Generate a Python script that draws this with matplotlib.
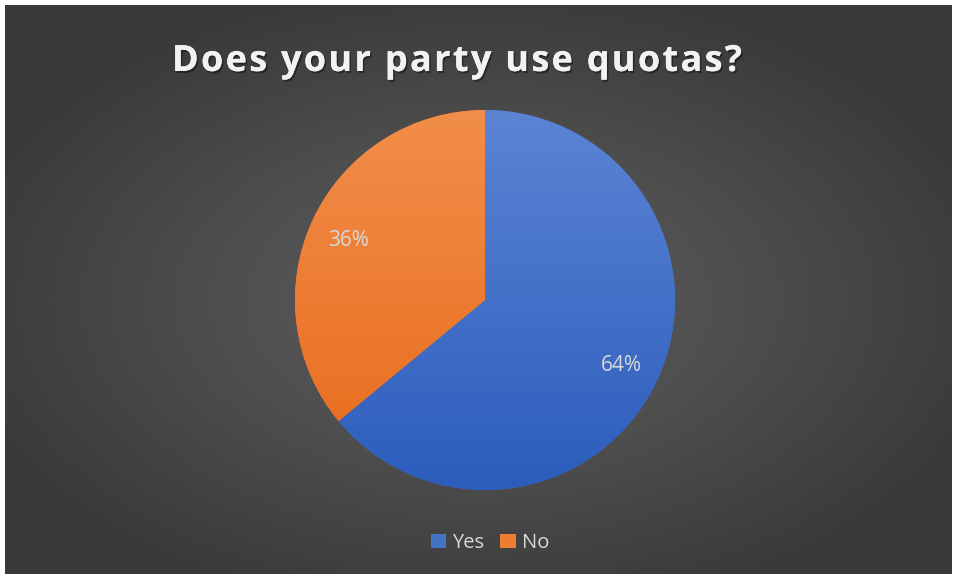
import numpy as np
import matplotlib
matplotlib.use("Agg")
import matplotlib.pyplot as plt
import matplotlib.patheffects as pe
from matplotlib.colors import LinearSegmentedColormap
from matplotlib.patches import Patch

title = "Does your party use quotas?"
categories = ["Yes", "No"]
values = [64, 36]
labels = ["64%", "36%"]
colors_top = ["#5b84d3", "#f28e4a"]
colors_bot = ["#2c5dbd", "#e86a1a"]
colors_mid = ["#4472c4", "#ed7d31"]

W, H = 956, 579
fig = plt.figure(figsize=(W / 100, H / 100), dpi=100, facecolor="white")

# background with radial gradient
bg = fig.add_axes([5 / W, 5 / H, (W - 9) / W, (H - 10) / H])
bg.set_axis_off()
yy, xx = np.mgrid[0:1:400j, 0:1:700j]
r = np.sqrt(((xx - 0.5) / 0.8) ** 2 + ((yy - 0.48) / 0.8) ** 2)
r = np.clip(r / 0.7, 0, 1)
bgcmap = LinearSegmentedColormap.from_list("bg", ["#5e5e5e", "#4e4e4e", "#3a3a3a"])
bg.imshow(r, cmap=bgcmap, extent=[0, 1, 0, 1], aspect="auto", origin="lower")
bg.set_xlim(0, 1)
bg.set_ylim(0, 1)

# pie axes: center (485,300), radius 190
R = 190
cx, cy = 485, 300
ax = fig.add_axes([(cx - R) / W, (H - cy - R) / H, 2 * R / W, 2 * R / H])
ax.set_axis_off()
wedges, _ = ax.pie(values, colors=colors_mid, startangle=90, counterclock=False,
                   radius=1.0, wedgeprops=dict(linewidth=0))
ax.set_xlim(-1, 1)
ax.set_ylim(-1, 1)
ax.set_aspect("equal")

grad = np.linspace(1, 0, 256).reshape(-1, 1)
for w, ct, cb in zip(wedges, colors_top, colors_bot):
    cm = LinearSegmentedColormap.from_list("g", [cb, ct])
    im = ax.imshow(grad, cmap=cm, extent=[-1, 1, -1, 1], aspect="auto",
                   origin="upper", zorder=w.get_zorder() + 0.1)
    im.set_clip_path(w)

# labels
ax.text(0.72, -0.345, labels[0], color="#d9d9d9", fontsize=15,
        ha="center", va="center", family="Open Sans", zorder=5)
ax.text(-0.72, 0.315, labels[1], color="#d9d9d9", fontsize=15,
        ha="center", va="center", family="Open Sans", zorder=5)

# title with letter spacing
renderer = fig.canvas.get_renderer()
tkw = dict(color="#f2f2f2", fontsize=26, fontweight="bold", family="Open Sans",
           ha="left", va="center",
           path_effects=[pe.withSimplePatchShadow(offset=(1.2, -1.5), shadow_rgbFace="black", alpha=0.4),
                         pe.Normal()])

def text_w(s):
    if not s:
        return 0.0
    t = fig.text(0, 0, s.replace(" ", "\u00a0"), **{k: v for k, v in tkw.items() if k != "path_effects"})
    w = t.get_window_extent(renderer).width
    t.remove()
    return w

target_left, target_right = 172, 742
full_w = text_w(title)
n = len(title)
spacing = (target_right - target_left - full_w) / (n - 1)
ty = 1 - 62 / H
for i, ch in enumerate(title):
    if ch == " ":
        continue
    x = target_left + text_w(title[:i]) + i * spacing
    fig.text(x / W, ty, ch, **tkw)

# legend
handles = [Patch(facecolor=c, edgecolor="none") for c in colors_mid]
fig.legend(handles, categories, loc="center", bbox_to_anchor=(490 / W, 1 - 543 / H),
           ncol=2, frameon=False, labelcolor="#d9d9d9",
           handlelength=0.75, handleheight=0.75, handletextpad=0.3, columnspacing=0.8,
           prop={"family": "Open Sans", "size": 14.5})

fig.savefig("out.png", dpi=100, facecolor="white")
